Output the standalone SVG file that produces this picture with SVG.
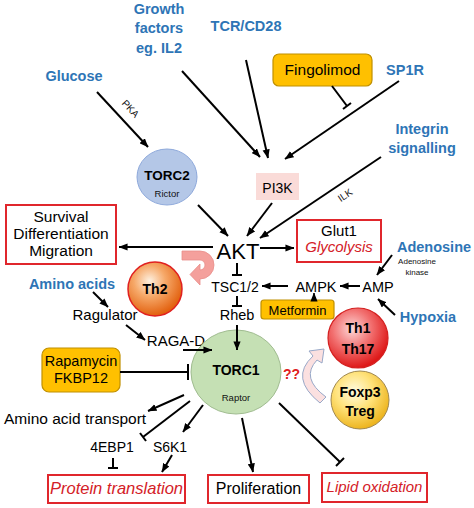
<svg xmlns="http://www.w3.org/2000/svg" width="474" height="508" viewBox="0 0 474 508">
<defs>
<marker id="ah" viewBox="0 0 10 8" refX="9.5" refY="4" markerWidth="9" markerHeight="7.5" orient="auto" markerUnits="userSpaceOnUse"><path d="M0,0 L10,4 L0,8 z" fill="#000"/></marker>
<radialGradient id="gTh2" cx="40%" cy="35%" r="65%"><stop offset="0" stop-color="#FDF0E0"/><stop offset="0.45" stop-color="#F6A868"/><stop offset="1" stop-color="#E2600E"/></radialGradient>
<radialGradient id="gTh1" cx="40%" cy="35%" r="65%"><stop offset="0" stop-color="#FCD8D8"/><stop offset="0.5" stop-color="#F27070"/><stop offset="1" stop-color="#DE1818"/></radialGradient>
<radialGradient id="gTreg" cx="40%" cy="35%" r="65%"><stop offset="0" stop-color="#FFFAE0"/><stop offset="0.5" stop-color="#FFE27A"/><stop offset="1" stop-color="#EDB520"/></radialGradient>
<style>
.blue{font-family:"Liberation Sans",Arial,sans-serif;font-weight:bold;font-size:14.5px;fill:#2E75B6}
.t{font-family:"Liberation Sans",Arial,sans-serif;font-size:15px;fill:#000}
.b{font-family:"Liberation Sans",Arial,sans-serif;font-weight:bold;font-size:14px;fill:#000}
.sm{font-family:"Liberation Sans",Arial,sans-serif;font-size:9.5px;fill:#111}
.it{font-family:"Liberation Sans",Arial,sans-serif;font-style:italic;fill:#D42027}
.redbox{fill:#fff;stroke:#E0262C;stroke-width:2}
.orange{fill:#FFC000;stroke:#C09000;stroke-width:1.2}
.c line,.c path{stroke:#000;stroke-width:2;fill:none}
.c .a{marker-end:url(#ah)}
</style>
</defs>
<rect width="474" height="508" fill="#fff"/>

<g id="inputs">
<text class="blue" x="159" y="14" text-anchor="middle">Growth</text>
<text class="blue" x="159" y="33" text-anchor="middle">factors</text>
<text class="blue" x="159" y="53" text-anchor="middle">eg. IL2</text>
<text class="blue" x="246" y="31" text-anchor="middle">TCR/CD28</text>
<text class="blue" x="74" y="81" text-anchor="middle">Glucose</text>
<text class="blue" x="405" y="75" text-anchor="middle">SP1R</text>
<text class="blue" x="422" y="134" text-anchor="middle">Integrin</text>
<text class="blue" x="422" y="153" text-anchor="middle">signalling</text>
<text class="blue" x="434" y="252" text-anchor="middle">Adenosine</text>
<text class="blue" x="428" y="322" text-anchor="middle">Hypoxia</text>
<text class="blue" x="72" y="289" text-anchor="middle">Amino acids</text>
</g>

<g id="fingolimod">
<rect class="orange" x="273" y="54" width="99" height="32" rx="6"/>
<text class="t" x="322.5" y="75" text-anchor="middle" style="font-size:15.5px">Fingolimod</text>
</g>

<g id="torc2">
<ellipse cx="167" cy="177" rx="30" ry="28" fill="#B4C7E7" stroke="#8EA9DB" stroke-width="1"/>
<text class="b" x="167" y="180" text-anchor="middle" style="font-size:13.5px">TORC2</text>
<text class="sm" x="167" y="197" text-anchor="middle">Rictor</text>
</g>

<g id="pi3k">
<rect x="256" y="173" width="43" height="27" fill="#FADBD8"/>
<text class="t" x="277.5" y="193" text-anchor="middle" style="font-size:14px">PI3K</text>
</g>

<g id="akt">
<text class="t" x="238" y="259" text-anchor="middle" style="font-size:22px">AKT</text>
</g>

<g id="survival">
<rect class="redbox" x="6" y="205" width="110" height="59"/>
<text class="t" x="61" y="222" text-anchor="middle" style="font-size:15.5px">Survival</text>
<text class="t" x="61" y="239" text-anchor="middle" style="font-size:15.5px">Differentiation</text>
<text class="t" x="61" y="256" text-anchor="middle" style="font-size:15.5px">Migration</text>
</g>

<g id="glut1">
<rect class="redbox" x="297" y="220" width="84" height="42"/>
<text class="t" x="339" y="236" text-anchor="middle">Glut1</text>
<text class="it" x="339" y="252" text-anchor="middle" style="font-size:15px">Glycolysis</text>
</g>

<g id="th2">
<circle cx="155" cy="289" r="27" fill="url(#gTh2)" stroke="#E02020" stroke-width="1.5"/>
<text class="b" x="155" y="294" text-anchor="middle">Th2</text>
</g>
<g id="th2-arrow">
<path d="M182,251 L200,251 A14,14 0 0 1 200,279 L200,285 L190,274.5 L200,264 L200,270 A5,5 0 0 0 200,260 L182,260 Z" fill="#F4A09C" stroke="#E88E8A" stroke-width="0.8"/>
</g>

<g id="tsc">
<text class="t" x="235" y="292" text-anchor="middle" style="font-size:14px">TSC1/2</text>
</g>
<g id="rheb">
<text class="t" x="237" y="320" text-anchor="middle" style="font-size:14.5px">Rheb</text>
</g>
<g id="ampk">
<text class="t" x="316" y="292" text-anchor="middle" style="font-size:14.5px">AMPK</text>
</g>
<g id="amp">
<text class="t" x="378" y="292" text-anchor="middle" style="font-size:14.5px">AMP</text>
<text class="sm" x="417" y="264" text-anchor="middle" style="font-size:8px">Adenosine</text>
<text class="sm" x="417" y="275" text-anchor="middle" style="font-size:8px">kinase</text>
</g>
<g id="metformin">
<rect class="orange" x="261" y="300" width="73" height="19" rx="3"/>
<text class="t" x="297.5" y="314.5" text-anchor="middle" style="font-size:13px">Metformin</text>
</g>

<g id="th1">
<circle cx="358" cy="338" r="30" fill="url(#gTh1)" stroke="#D42020" stroke-width="1.2"/>
<text class="b" x="358" y="333" text-anchor="middle">Th1</text>
<text class="b" x="358" y="354" text-anchor="middle">Th17</text>
</g>
<g id="treg">
<circle cx="360" cy="400" r="29" fill="url(#gTreg)" stroke="#A08850" stroke-width="1"/>
<text class="b" x="360" y="397" text-anchor="middle">Foxp3</text>
<text class="b" x="360" y="416" text-anchor="middle">Treg</text>
</g>
<g id="treg-arrow">
<path d="M320,403 Q289,378 313,356 L309,351 L324,349 L322,363 L317,360 Q300,378 326,397 Z" fill="#FBE0E0" stroke="#98A8C8" stroke-width="1"/>
<text x="283" y="379" style="font-family:'Liberation Sans',Arial,sans-serif;font-weight:bold;font-size:14px;fill:#E02020">??</text>
</g>

<g id="ragulator">
<text class="t" x="105" y="320" text-anchor="middle">Ragulator</text>
</g>
<g id="raga">
<text class="t" x="176" y="346" text-anchor="middle">RAGA-D</text>
</g>

<g id="torc1">
<ellipse cx="236" cy="372" rx="45" ry="42" fill="#C5E0B4" stroke="#A0BC90" stroke-width="1"/>
<text class="b" x="236" y="375" text-anchor="middle" style="font-size:14px">TORC1</text>
<text class="sm" x="236" y="401" text-anchor="middle">Raptor</text>
</g>

<g id="rapamycin">
<rect class="orange" x="42" y="348" width="78" height="44" rx="7"/>
<text class="t" x="81" y="366" text-anchor="middle" style="font-size:14.5px">Rapamycin</text>
<text class="t" x="81" y="383" text-anchor="middle" style="font-size:14.5px">FKBP12</text>
</g>

<g id="aatransport">
<text class="t" x="4" y="424" style="font-size:15.5px">Amino acid transport</text>
</g>
<g id="4ebp1">
<text class="t" x="112" y="452" text-anchor="middle" style="font-size:14px">4EBP1</text>
</g>
<g id="s6k1">
<text class="t" x="170" y="452" text-anchor="middle" style="font-size:14px">S6K1</text>
</g>

<g id="protein">
<rect class="redbox" x="48" y="475" width="137" height="28"/>
<text class="it" x="116.5" y="494" text-anchor="middle" style="font-size:16.5px">Protein translation</text>
</g>
<g id="proliferation">
<rect class="redbox" x="208" y="475" width="101" height="28"/>
<text class="t" x="258.5" y="494" text-anchor="middle" style="font-size:16px">Proliferation</text>
</g>
<g id="lipid">
<rect class="redbox" x="322" y="473" width="105" height="29"/>
<text class="it" x="374.5" y="492" text-anchor="middle" style="font-size:15px">Lipid oxidation</text>
</g>

<g id="connectors" class="c">
<line class="a" x1="97" y1="92" x2="148" y2="147"/>
<line class="a" x1="182" y1="71" x2="260" y2="157"/>
<line class="a" x1="246" y1="60" x2="268" y2="158"/>
<line class="a" x1="399" y1="81" x2="285" y2="159"/>
<line x1="332" y1="86" x2="347" y2="106"/>
<line x1="343" y1="109" x2="351" y2="103"/>
<line class="a" x1="381" y1="157" x2="260" y2="238"/>
<line class="a" x1="198" y1="205" x2="228" y2="236"/>
<line class="a" x1="272" y1="203" x2="247" y2="236"/>
<line class="a" x1="213" y1="247" x2="119" y2="247"/>
<line class="a" x1="260" y1="248" x2="294" y2="248"/>
<line x1="237" y1="263" x2="237" y2="275"/>
<line x1="232" y1="275" x2="242" y2="275"/>
<line x1="237" y1="296" x2="237" y2="306"/>
<line x1="232" y1="306" x2="242" y2="306"/>
<line class="a" x1="237" y1="325" x2="237" y2="350"/>
<line class="a" x1="288" y1="286" x2="262" y2="286"/>
<line class="a" x1="360" y1="286" x2="340" y2="286"/>
<line class="a" x1="392" y1="255" x2="377" y2="275"/>
<line class="a" x1="395" y1="315" x2="378" y2="299"/>
<line class="a" x1="314" y1="300" x2="314" y2="293" style="stroke-width:1.5"/>
<line class="a" x1="93" y1="292" x2="108" y2="307"/>
<line class="a" x1="126" y1="325" x2="145" y2="340"/>
<line class="a" x1="183" y1="350" x2="212" y2="350"/>
<line x1="120" y1="372" x2="188" y2="372"/>
<line x1="188" y1="364" x2="188" y2="380"/>
<line class="a" x1="184" y1="395" x2="148" y2="411"/>
<line x1="190" y1="401" x2="143" y2="437"/>
<line x1="146" y1="441" x2="140" y2="433"/>
<line class="a" x1="203" y1="405" x2="183" y2="432"/>
<line x1="113" y1="458" x2="113" y2="468"/>
<line x1="108" y1="468" x2="118" y2="468"/>
<line class="a" x1="172" y1="455" x2="162" y2="472"/>
<line class="a" x1="242" y1="418" x2="253" y2="472"/>
<line x1="279" y1="403" x2="340" y2="462"/>
<line x1="344" y1="458" x2="336" y2="466"/>
</g>
<g id="connector-labels">
<text class="sm" x="128" y="111" text-anchor="middle" transform="rotate(47 128 111)" style="font-size:10px">PKA</text>
<text class="sm" x="347" y="198" text-anchor="middle" transform="rotate(-34 347 198)" style="font-size:10px">ILK</text>
</g>
</svg>
